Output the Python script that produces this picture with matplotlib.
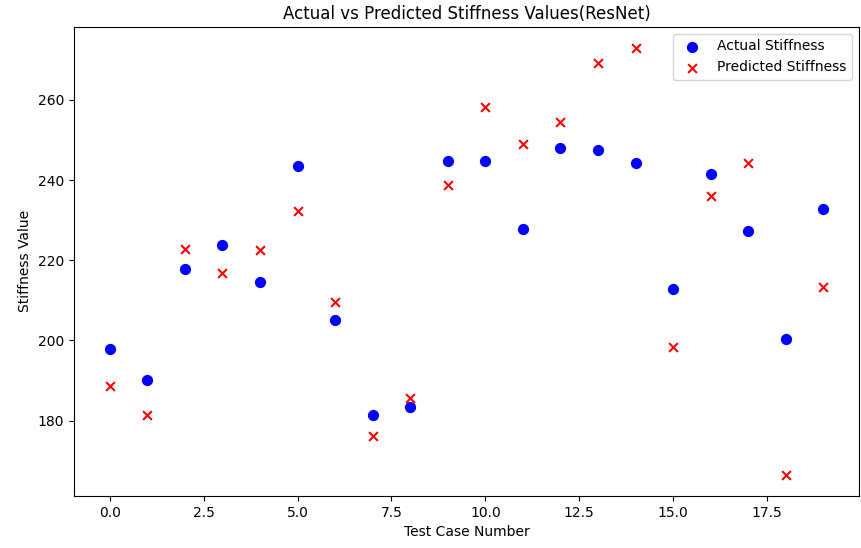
import matplotlib
matplotlib.use("Agg")
import matplotlib.pyplot as plt

# test cases 0..19
case_ids = list(range(20))
actual_stiffness = [197.8, 190.1, 217.7, 223.8, 214.6, 243.6, 205.0, 181.4, 183.4, 244.8,
                    244.7, 227.8, 247.9, 247.4, 244.3, 212.9, 241.5, 227.4, 200.4, 232.7]
predicted_stiffness = [188.5, 181.4, 222.7, 216.9, 222.5, 232.3, 209.6, 176.2, 185.7, 238.8,
                       258.3, 248.9, 254.4, 269.1, 272.9, 198.3, 236.0, 244.3, 166.5, 213.2]

fig, ax = plt.subplots(figsize=(8.62, 5.48), dpi=100)
fig.subplots_adjust(left=0.086, right=0.9965, top=0.951, bottom=0.095)

ax.scatter(case_ids, actual_stiffness, color='blue', marker='o', s=50, label='Actual Stiffness')
ax.scatter(case_ids, predicted_stiffness, color='red', marker='x', s=40, label='Predicted Stiffness')

ax.set_title('Actual vs Predicted Stiffness Values(ResNet)')
ax.set_xlabel('Test Case Number')
ax.set_ylabel('Stiffness Value')
ax.legend(loc='upper right')

fig.savefig('out.png', dpi=100)
